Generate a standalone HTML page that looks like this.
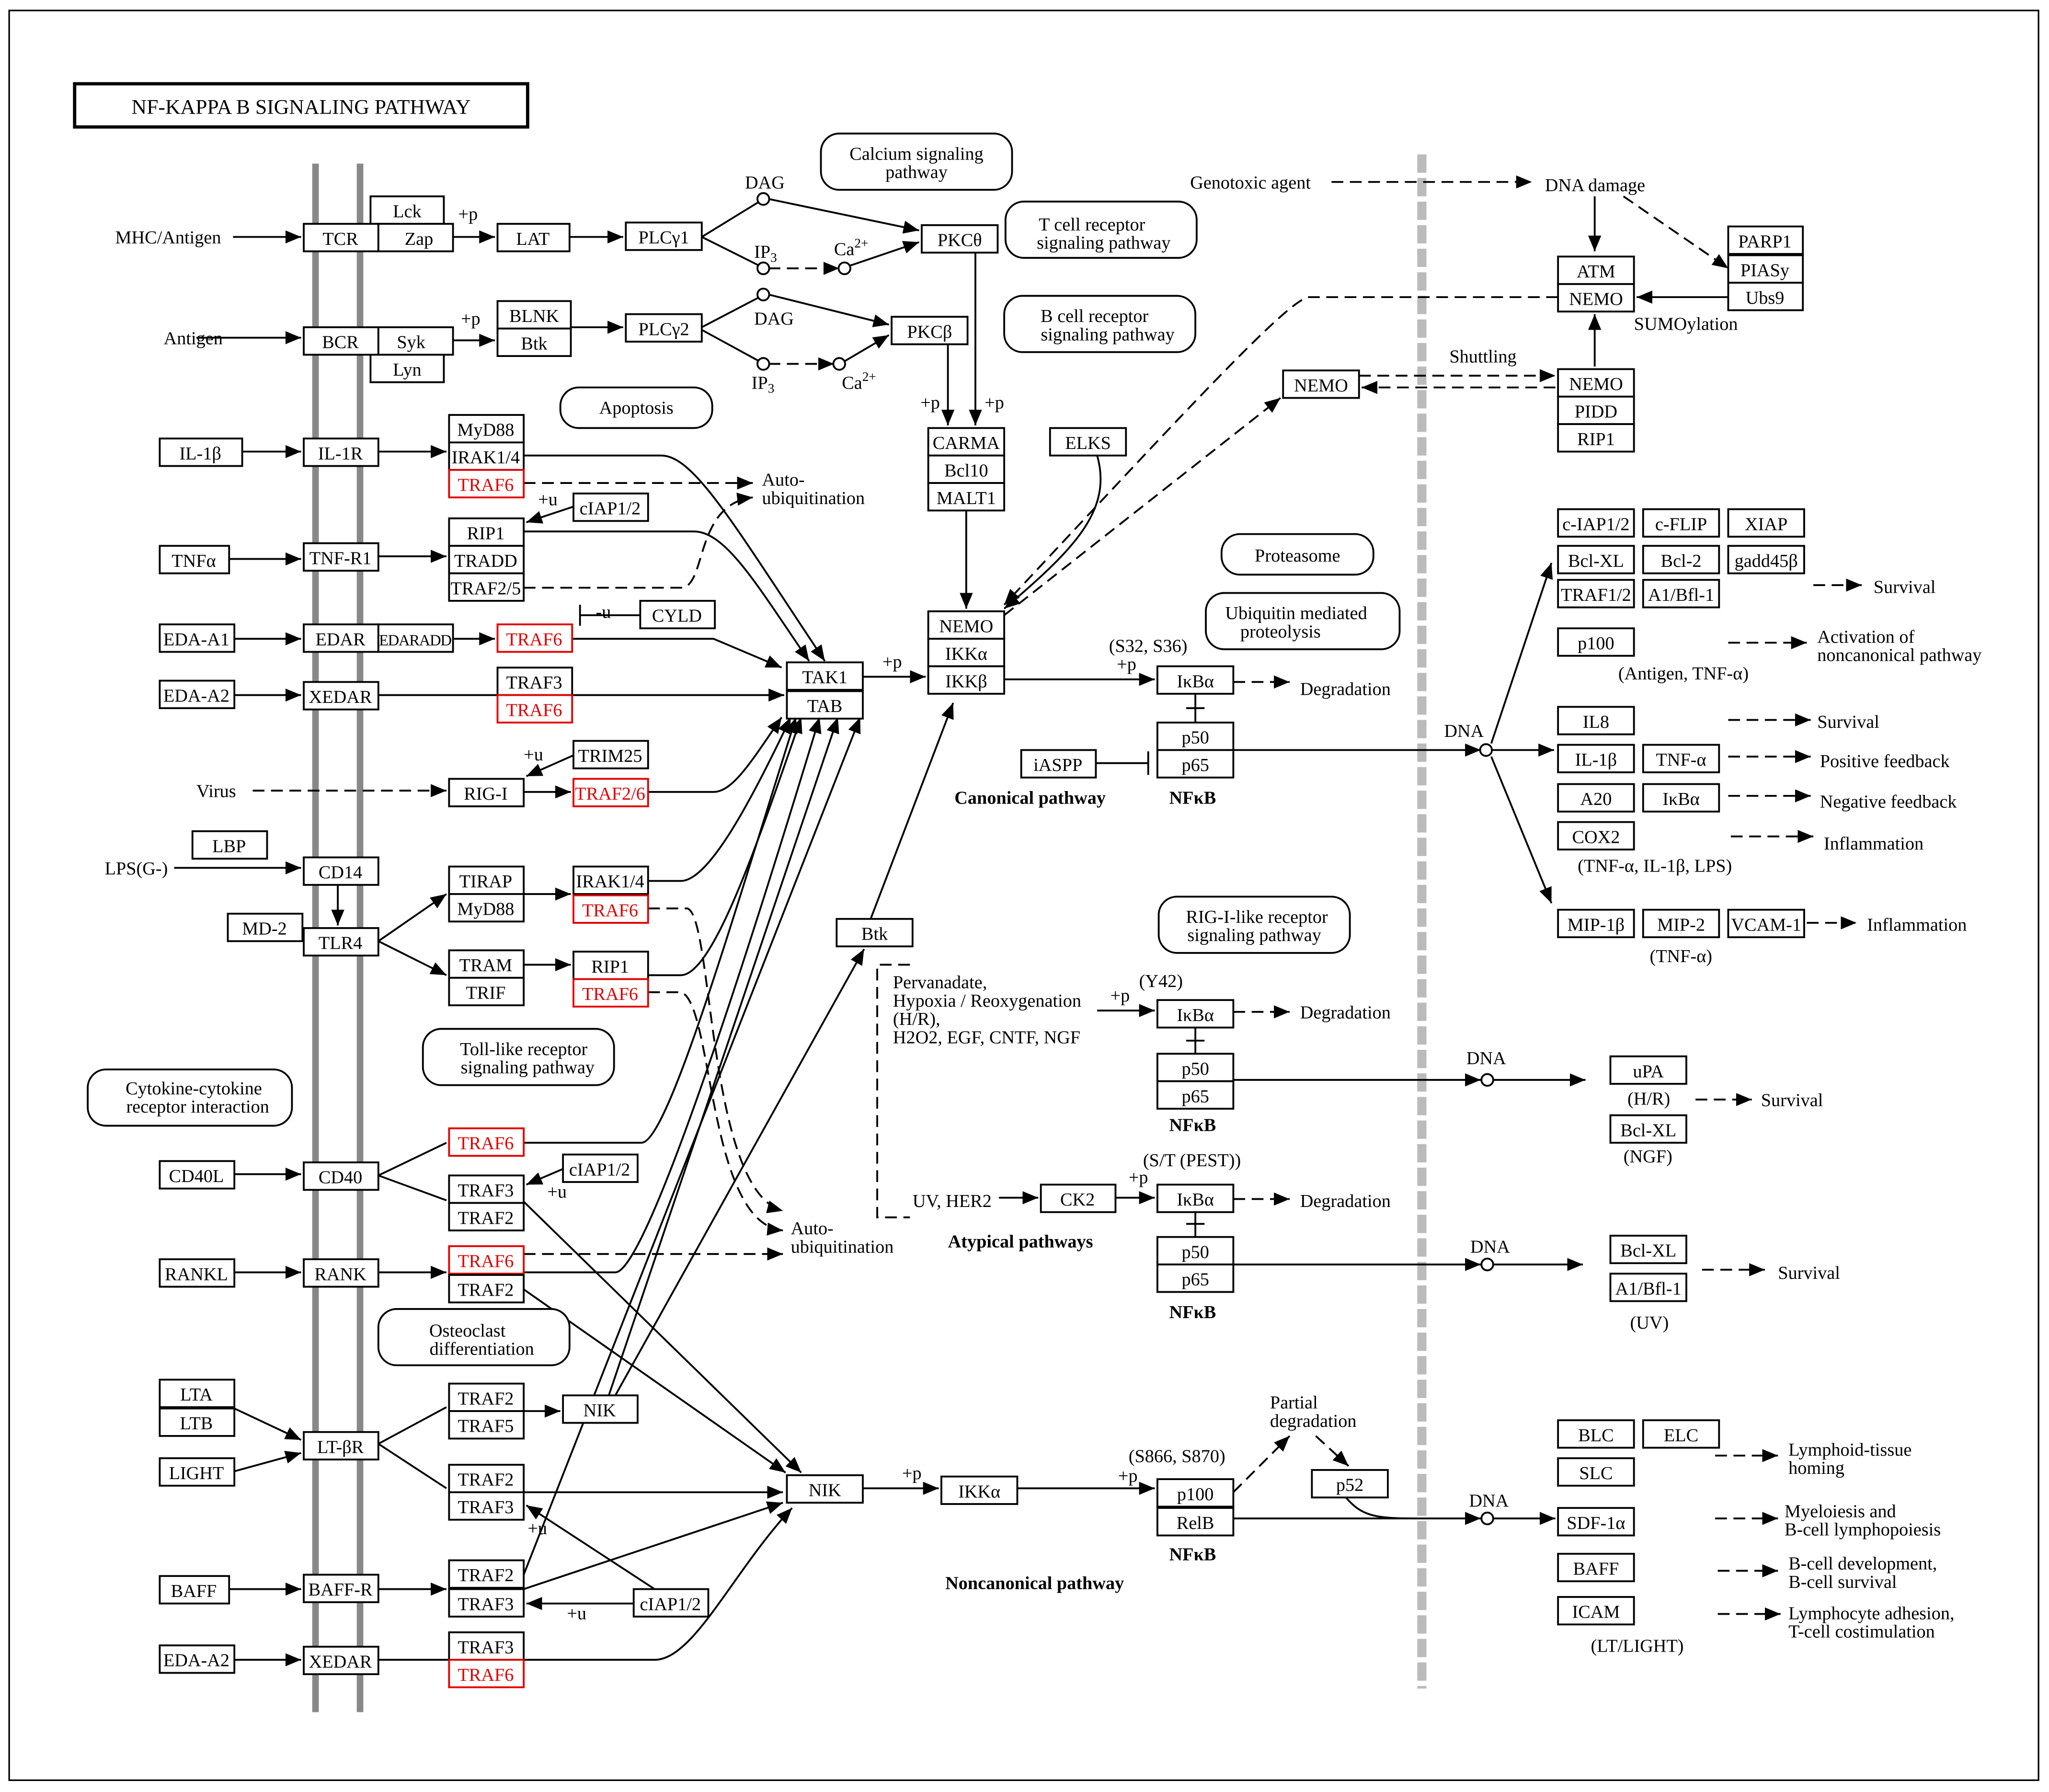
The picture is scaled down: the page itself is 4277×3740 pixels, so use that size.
<!DOCTYPE html>
<html><head><meta charset="utf-8"><style>
html,body{margin:0;padding:0;background:#fff;}
svg{display:block;}
text{font-family:"Liberation Serif",serif;font-size:14px;fill:#000;}
.c{text-anchor:middle;}
.r{fill:#e00000;}
.b{font-weight:bold;}
rect{fill:#fff;stroke:#000;stroke-width:1.4;}
.rr{fill:#fff;stroke:#000;stroke-width:1.4;}
.red{stroke:#e00000;}
.l{fill:none;stroke:#000;stroke-width:1.4;}
.d{fill:none;stroke:#000;stroke-width:1.4;stroke-dasharray:9,5;}
circle{fill:#fff;stroke:#000;stroke-width:1.4;}
</style></head><body>
<svg width="4277" height="3740" viewBox="0 0 1565 1369" preserveAspectRatio="none" xmlns="http://www.w3.org/2000/svg">
<defs><marker id="a" viewBox="0 0 12 10" refX="12" refY="5" markerWidth="12" markerHeight="10" markerUnits="userSpaceOnUse" orient="auto"><path d="M0,0L12,5L0,10z" fill="#000"/></marker></defs>
<rect x="7" y="8" width="1550" height="1352" style="stroke-width:1.2"/>
<rect x="57" y="64" width="346" height="33" style="stroke-width:2.5"/>
<text x="230" y="87" class="c" style="font-size:16px">NF-KAPPA  B  SIGNALING  PATHWAY</text>
<line x1="241" y1="125" x2="241" y2="1308" stroke="#888" stroke-width="5"/>
<line x1="275" y1="125" x2="275" y2="1308" stroke="#888" stroke-width="5"/>
<line x1="1086" y1="118" x2="1086" y2="1290" stroke="#bbb" stroke-width="7" stroke-dasharray="14,4"/>

<!-- connectors -->
<g class="l" marker-end="url(#a)">
<path d="M178,181H230"/><path d="M346,181H378"/><path d="M435,181H476"/>
<path d="M587,152L702,176"/><path d="M649,203L702,185"/><path d="M745,193V325"/>
<path d="M150,258H230"/><path d="M346,260H378"/><path d="M436,250H476"/>
<path d="M587,225L679,248"/><path d="M645,276L679,256"/><path d="M724,263V325"/>
<path d="M185,345H230"/><path d="M289,345H341"/>
<path d="M400,348H505C530,348 560,400 630,505"/>
<path d="M438,387L402,399"/>
<path d="M175,427H230"/><path d="M289,425H341"/>
<path d="M400,406H530C555,406 580,450 618,505"/>
<path d="M179,488H230"/><path d="M346,488H378"/>
<path d="M437,488H545L597,510"/>
<path d="M179,531H230"/><path d="M289,531H599"/>
<path d="M659,517H707"/><path d="M738,390V465"/>
<path d="M838,348C850,390 820,420 767,465"/>
<path d="M767,519H882"/>
<path d="M942,573H1131"/><path d="M1139,573H1187"/><path d="M1139,568L1185,430"/><path d="M1139,578L1185,690"/>
<path d="M438,577L402,593"/><path d="M400,605H436"/>
<path d="M495,605H545C560,605 575,580 597,548"/>
<path d="M133,663H230"/><path d="M258,676V707"/>
<path d="M289,719L341,683"/><path d="M289,719L341,745"/>
<path d="M400,683H436"/><path d="M400,737H436"/>
<path d="M495,673H520C540,673 570,620 604,548"/>
<path d="M495,745H520C545,745 580,640 612,548"/>
<path d="M665,702L728,537"/>
<path d="M838,772H882"/><path d="M942,825H1131"/><path d="M1140,825H1211"/>
<path d="M763,915H793"/><path d="M852,915H882"/>
<path d="M942,966H1131"/><path d="M1140,966H1209"/>
<path d="M179,897H230"/>
<path d="M400,873H490C510,873 560,700 608,548"/>
<path d="M430,893L402,905"/>
<path d="M400,918L612,1125"/>
<path d="M179,972H230"/><path d="M289,972H341"/>
<path d="M400,972H470C495,972 580,700 626,548"/>
<path d="M400,985L600,1125"/>
<path d="M179,1076L230,1100"/><path d="M179,1124L230,1110"/>
<path d="M400,1078H428"/>
<path d="M465,1066L640,548"/>
<path d="M470,1066L660,725"/>
<path d="M400,1203L657,548"/>
<path d="M400,1140H598"/>
<path d="M484,1225H402"/><path d="M500,1214L402,1150"/>
<path d="M175,1214H230"/><path d="M289,1214H341"/>
<path d="M400,1214L598,1148"/>
<path d="M179,1268H230"/><path d="M289,1268H500C530,1268 560,1200 605,1152"/>
<path d="M659,1137H717"/><path d="M777,1137H882"/>
<path d="M942,1160H1131"/><path d="M1140,1160H1188"/>
<path d="M1218,150V192"/><path d="M1320,227H1250"/><path d="M1218,280V240"/>
</g>
<g class="l">
<path d="M536,181L580,154"/><path d="M536,181L580,203"/>
<path d="M536,250L580,227"/><path d="M536,252L580,276"/>
<path d="M837,583H877M877,574V592"/>
<path d="M489,470H443M443,462V478"/>
<path d="M913,530V552M906,541H920"/>
<path d="M913,785V805M906,795H920"/>
<path d="M913,926V945M906,935H920"/>
<path d="M289,898L341,873"/><path d="M289,898L341,917"/>
<path d="M289,1103L341,1075"/><path d="M289,1103L341,1137"/>
<path d="M1028,1144C1040,1158 1050,1160 1080,1160"/>
</g>
<g class="d" marker-end="url(#a)">
<path d="M587,205H641"/><path d="M587,278H637"/>
<path d="M400,369H575"/>
<path d="M400,449H520C540,449 530,385 575,380"/>
<path d="M767,470L978,304"/>
<path d="M1190,227H1000C985,227 900,320 767,462"/>
<path d="M942,521H985"/>
<path d="M1385,447H1422"/><path d="M1320,491H1380"/><path d="M1320,550H1383"/><path d="M1320,578H1383"/><path d="M1320,608H1383"/><path d="M1322,639H1385"/><path d="M1380,705H1418"/>
<path d="M193,604H341"/>
<path d="M495,694H525C545,700 540,910 598,925"/>
<path d="M495,758H520C545,765 540,935 598,940"/>
<path d="M942,773H985"/><path d="M1295,840H1338"/>
<path d="M942,916H985"/><path d="M1300,970H1348"/>
<path d="M400,958H598"/>
<path d="M942,1140L985,1097"/><path d="M1005,1097L1030,1120"/>
<path d="M1310,1112H1358"/><path d="M1310,1160H1358"/><path d="M1312,1200H1358"/><path d="M1312,1233H1360"/>
<path d="M1017,139H1170"/><path d="M1240,150L1320,205"/>
<path d="M1038,287H1188"/><path d="M1188,296H1040"/>
</g>
<path class="d" d="M695,737H670V930H695"/>

<circle cx="583" cy="152" r="4.5"/><circle cx="583" cy="205" r="4.5"/><circle cx="645" cy="205" r="4.5"/>
<circle cx="583" cy="225" r="4.5"/><circle cx="583" cy="278" r="4.5"/><circle cx="641" cy="278" r="4.5"/>
<circle cx="1135" cy="573" r="4.5"/><circle cx="1136" cy="825" r="4.5"/><circle cx="1136" cy="966" r="4.5"/><circle cx="1136" cy="1160" r="4.5"/>

<!-- rounded boxes -->
<g class="rr">
<rect x="627" y="102" width="146" height="43" rx="14"/><rect x="768" y="154" width="146" height="43" rx="14"/>
<rect x="767" y="226" width="146" height="43" rx="14"/><rect x="428" y="296" width="116" height="31" rx="14"/>
<rect x="933" y="408" width="116" height="31" rx="14"/><rect x="921" y="453" width="148" height="43" rx="14"/>
<rect x="323" y="786" width="146" height="43" rx="14"/><rect x="67" y="817" width="156" height="43" rx="14"/>
<rect x="885" y="685" width="146" height="43" rx="14"/><rect x="289" y="1000" width="146" height="43" rx="14"/>
</g>
<text x="700" y="122" class="c">Calcium signaling</text><text x="700" y="136" class="c">pathway</text>
<text x="834" y="176" class="c">T cell receptor</text><text x="843" y="190" class="c">signaling pathway</text>
<text x="836" y="246" class="c">B cell receptor</text><text x="846" y="260" class="c">signaling pathway</text>
<text x="486" y="316" class="c">Apoptosis</text>
<text x="991" y="429" class="c">Proteasome</text>
<text x="990" y="473" class="c">Ubiquitin mediated</text><text x="978" y="487" class="c">proteolysis</text>
<text x="400" y="806" class="c">Toll-like receptor</text><text x="403" y="820" class="c">signaling pathway</text>
<text x="148" y="836" class="c">Cytokine-cytokine</text><text x="151" y="850" class="c">receptor interaction</text>
<text x="960" y="705" class="c">RIG-I-like receptor</text><text x="958" y="719" class="c">signaling pathway</text>
<text x="357" y="1021" class="c">Osteoclast</text><text x="368" y="1035" class="c">differentiation</text>

<!-- boxes -->
<g>
<rect x="283" y="150" width="56" height="21"/><rect x="232" y="171" width="57" height="21"/><rect x="289" y="171" width="57" height="21"/>
<rect x="380" y="171" width="55" height="21"/><rect x="478" y="170" width="58" height="21"/><rect x="704" y="172" width="58" height="21"/>
<rect x="380" y="230" width="56" height="21"/><rect x="380" y="251" width="56" height="21"/>
<rect x="232" y="250" width="57" height="21"/><rect x="289" y="250" width="57" height="21"/><rect x="283" y="271" width="56" height="21"/>
<rect x="478" y="240" width="58" height="21"/><rect x="681" y="242" width="58" height="21"/>
<rect x="122" y="335" width="63" height="21"/><rect x="232" y="335" width="57" height="21"/>
<rect x="343" y="317" width="57" height="21"/><rect x="343" y="338" width="57" height="21"/><rect x="343" y="359" width="57" height="21" class="red"/>
<rect x="438" y="377" width="57" height="21"/>
<rect x="343" y="396" width="57" height="21"/><rect x="343" y="417" width="57" height="21"/><rect x="343" y="438" width="57" height="21"/>
<rect x="122" y="417" width="53" height="21"/><rect x="232" y="415" width="57" height="21"/>
<rect x="489" y="459" width="57" height="21"/>
<rect x="122" y="477" width="57" height="21"/><rect x="232" y="477" width="57" height="21"/><rect x="289" y="477" width="57" height="21"/>
<rect x="380" y="477" width="57" height="21" class="red"/>
<rect x="122" y="520" width="57" height="21"/><rect x="232" y="521" width="57" height="21"/>
<rect x="380" y="510" width="57" height="21"/><rect x="380" y="531" width="57" height="21" class="red"/>
<rect x="601" y="506" width="58" height="21"/><rect x="601" y="528" width="58" height="21"/>
<rect x="709" y="467" width="58" height="21"/><rect x="709" y="488" width="58" height="21"/><rect x="709" y="509" width="58" height="21"/>
<rect x="709" y="327" width="58" height="21"/><rect x="709" y="348" width="58" height="21"/><rect x="709" y="369" width="58" height="21"/>
<rect x="802" y="327" width="58" height="21"/>
<rect x="438" y="566" width="57" height="21"/><rect x="343" y="595" width="57" height="21"/><rect x="438" y="595" width="57" height="21" class="red"/>
<rect x="147" y="635" width="57" height="21"/><rect x="232" y="655" width="57" height="21"/>
<rect x="174" y="698" width="57" height="21"/><rect x="232" y="709" width="57" height="21"/>
<rect x="343" y="662" width="57" height="21"/><rect x="343" y="683" width="57" height="21"/>
<rect x="438" y="662" width="57" height="21"/><rect x="438" y="684" width="57" height="21" class="red"/>
<rect x="343" y="726" width="57" height="21"/><rect x="343" y="747" width="57" height="21"/>
<rect x="438" y="727" width="57" height="21"/><rect x="438" y="748" width="57" height="21" class="red"/>
<rect x="639" y="702" width="58" height="21"/>
<rect x="343" y="862" width="57" height="21" class="red"/><rect x="430" y="882" width="57" height="21"/>
<rect x="122" y="887" width="57" height="21"/><rect x="232" y="888" width="57" height="21"/>
<rect x="343" y="898" width="57" height="21"/><rect x="343" y="919" width="57" height="21"/>
<rect x="122" y="962" width="57" height="21"/><rect x="232" y="962" width="57" height="21"/>
<rect x="343" y="952" width="57" height="21" class="red"/><rect x="343" y="974" width="57" height="21"/>
<rect x="122" y="1054" width="57" height="21"/><rect x="122" y="1076" width="57" height="21"/><rect x="122" y="1114" width="57" height="21"/>
<rect x="232" y="1094" width="57" height="21"/>
<rect x="343" y="1057" width="57" height="21"/><rect x="343" y="1078" width="57" height="21"/><rect x="430" y="1066" width="57" height="21"/>
<rect x="343" y="1119" width="57" height="21"/><rect x="343" y="1140" width="57" height="21"/>
<rect x="122" y="1204" width="53" height="21"/><rect x="232" y="1203" width="57" height="21"/>
<rect x="343" y="1192" width="57" height="21"/><rect x="343" y="1214" width="57" height="21"/><rect x="484" y="1214" width="57" height="21"/>
<rect x="122" y="1257" width="57" height="21"/><rect x="232" y="1258" width="57" height="21"/>
<rect x="343" y="1247" width="57" height="21"/><rect x="343" y="1268" width="57" height="21" class="red"/>
<rect x="601" y="1127" width="58" height="21"/><rect x="719" y="1128" width="58" height="21"/>
<rect x="884" y="1130" width="58" height="21"/><rect x="884" y="1152" width="58" height="21"/><rect x="1002" y="1123" width="58" height="21"/>
<rect x="884" y="509" width="58" height="21"/><rect x="884" y="552" width="58" height="21"/><rect x="884" y="573" width="58" height="21"/>
<rect x="780" y="573" width="57" height="21"/>
<rect x="884" y="764" width="58" height="21"/><rect x="884" y="805" width="58" height="21"/><rect x="884" y="826" width="58" height="21"/>
<rect x="795" y="905" width="57" height="21"/>
<rect x="884" y="905" width="58" height="21"/><rect x="884" y="945" width="58" height="21"/><rect x="884" y="966" width="58" height="21"/>
<rect x="980" y="283" width="58" height="21"/>
<rect x="1190" y="196" width="58" height="21"/><rect x="1190" y="217" width="58" height="21"/>
<rect x="1320" y="173" width="57" height="21"/><rect x="1320" y="195" width="57" height="21"/><rect x="1320" y="216" width="57" height="21"/>
<rect x="1190" y="282" width="58" height="21"/><rect x="1190" y="303" width="58" height="21"/><rect x="1190" y="324" width="58" height="21"/>
<rect x="1190" y="389" width="58" height="21"/><rect x="1255" y="389" width="58" height="21"/><rect x="1320" y="389" width="58" height="21"/>
<rect x="1190" y="417" width="58" height="21"/><rect x="1255" y="417" width="58" height="21"/><rect x="1320" y="417" width="58" height="21"/>
<rect x="1190" y="443" width="58" height="21"/><rect x="1255" y="443" width="58" height="21"/>
<rect x="1190" y="480" width="58" height="21"/><rect x="1190" y="540" width="58" height="21"/>
<rect x="1190" y="569" width="58" height="21"/><rect x="1255" y="569" width="58" height="21"/>
<rect x="1190" y="599" width="58" height="21"/><rect x="1255" y="599" width="58" height="21"/>
<rect x="1190" y="628" width="58" height="21"/>
<rect x="1190" y="695" width="58" height="21"/><rect x="1255" y="695" width="58" height="21"/><rect x="1320" y="695" width="58" height="21"/>
<rect x="1230" y="807" width="58" height="21"/><rect x="1230" y="852" width="58" height="21"/>
<rect x="1230" y="944" width="58" height="21"/><rect x="1230" y="973" width="58" height="21"/>
<rect x="1190" y="1085" width="58" height="21"/><rect x="1255" y="1085" width="58" height="21"/>
<rect x="1190" y="1114" width="58" height="21"/><rect x="1190" y="1152" width="58" height="21"/>
<rect x="1190" y="1187" width="58" height="21"/><rect x="1190" y="1220" width="58" height="21"/>
</g>
<g class="c">
<text x="311" y="166" class="c">Lck</text><text x="260" y="187" class="c">TCR</text><text x="320" y="187" class="c">Zap</text>
<text x="407" y="187" class="c">LAT</text><text x="507" y="186" class="c">PLCγ1</text><text x="733" y="188" class="c">PKCθ</text>
<text x="408" y="246" class="c">BLNK</text><text x="408" y="267" class="c">Btk</text>
<text x="260" y="266" class="c">BCR</text><text x="314" y="266" class="c">Syk</text><text x="311" y="287" class="c">Lyn</text>
<text x="507" y="256" class="c">PLCγ2</text><text x="710" y="258" class="c">PKCβ</text>
<text x="153" y="351" class="c">IL-1β</text><text x="260" y="351" class="c">IL-1R</text>
<text x="371" y="333" class="c">MyD88</text><text x="371" y="354" class="c">IRAK1/4</text><text x="371" y="375" class="c r">TRAF6</text>
<text x="466" y="393" class="c">cIAP1/2</text>
<text x="371" y="412" class="c">RIP1</text><text x="371" y="433" class="c">TRADD</text><text x="371" y="454" class="c">TRAF2/5</text>
<text x="148" y="433" class="c">TNFα</text><text x="260" y="431" class="c">TNF-R1</text><text x="517" y="475" class="c">CYLD</text>
<text x="150" y="493" class="c">EDA-A1</text><text x="260" y="493" class="c">EDAR</text><text x="317" y="493" class="c" style="font-size:12px;letter-spacing:-0.5px">EDARADD</text>
<text x="408" y="493" class="c r">TRAF6</text>
<text x="150" y="536" class="c">EDA-A2</text><text x="260" y="537" class="c">XEDAR</text>
<text x="408" y="526" class="c">TRAF3</text><text x="408" y="547" class="c r">TRAF6</text>
<text x="630" y="522" class="c">TAK1</text><text x="630" y="544" class="c">TAB</text>
<text x="738" y="483" class="c">NEMO</text><text x="738" y="504" class="c">IKKα</text><text x="738" y="525" class="c">IKKβ</text>
<text x="738" y="343" class="c">CARMA</text><text x="738" y="364" class="c">Bcl10</text><text x="738" y="385" class="c">MALT1</text>
<text x="831" y="343" class="c">ELKS</text>
<text x="466" y="582" class="c">TRIM25</text><text x="371" y="611" class="c">RIG-I</text><text x="466" y="611" class="c r">TRAF2/6</text>
<text x="175" y="651" class="c">LBP</text><text x="260" y="671" class="c">CD14</text>
<text x="202" y="714" class="c">MD-2</text><text x="260" y="725" class="c">TLR4</text>
<text x="371" y="678" class="c">TIRAP</text><text x="371" y="699" class="c">MyD88</text>
<text x="466" y="678" class="c">IRAK1/4</text><text x="466" y="700" class="c r">TRAF6</text>
<text x="371" y="742" class="c">TRAM</text><text x="371" y="763" class="c">TRIF</text>
<text x="466" y="743" class="c">RIP1</text><text x="466" y="764" class="c r">TRAF6</text>
<text x="668" y="718" class="c">Btk</text>
<text x="371" y="878" class="c r">TRAF6</text><text x="458" y="898" class="c">cIAP1/2</text>
<text x="150" y="903" class="c">CD40L</text><text x="260" y="904" class="c">CD40</text>
<text x="371" y="914" class="c">TRAF3</text><text x="371" y="935" class="c">TRAF2</text>
<text x="150" y="978" class="c">RANKL</text><text x="260" y="978" class="c">RANK</text>
<text x="371" y="968" class="c r">TRAF6</text><text x="371" y="990" class="c">TRAF2</text>
<text x="150" y="1070" class="c">LTA</text><text x="150" y="1092" class="c">LTB</text><text x="150" y="1130" class="c">LIGHT</text>
<text x="260" y="1110" class="c">LT-βR</text>
<text x="371" y="1073" class="c">TRAF2</text><text x="371" y="1094" class="c">TRAF5</text><text x="458" y="1082" class="c">NIK</text>
<text x="371" y="1135" class="c">TRAF2</text><text x="371" y="1156" class="c">TRAF3</text>
<text x="148" y="1220" class="c">BAFF</text><text x="260" y="1219" class="c">BAFF-R</text>
<text x="371" y="1208" class="c">TRAF2</text><text x="371" y="1230" class="c">TRAF3</text><text x="512" y="1230" class="c">cIAP1/2</text>
<text x="150" y="1273" class="c">EDA-A2</text><text x="260" y="1274" class="c">XEDAR</text>
<text x="371" y="1263" class="c">TRAF3</text><text x="371" y="1284" class="c r">TRAF6</text>
<text x="630" y="1143" class="c">NIK</text><text x="748" y="1144" class="c">IKKα</text>
<text x="913" y="1146" class="c">p100</text><text x="913" y="1168" class="c">RelB</text><text x="1031" y="1139" class="c">p52</text>
<text x="913" y="525" class="c">IκBα</text><text x="913" y="568" class="c">p50</text><text x="913" y="589" class="c">p65</text>
<text x="808" y="589" class="c">iASPP</text>
<text x="913" y="780" class="c">IκBα</text><text x="913" y="821" class="c">p50</text><text x="913" y="842" class="c">p65</text>
<text x="823" y="921" class="c">CK2</text>
<text x="913" y="921" class="c">IκBα</text><text x="913" y="961" class="c">p50</text><text x="913" y="982" class="c">p65</text>
<text x="1009" y="299" class="c">NEMO</text>
<text x="1219" y="212" class="c">ATM</text><text x="1219" y="233" class="c">NEMO</text>
<text x="1348" y="189" class="c">PARP1</text><text x="1348" y="211" class="c">PIASy</text><text x="1348" y="232" class="c">Ubs9</text>
<text x="1219" y="298" class="c">NEMO</text><text x="1219" y="319" class="c">PIDD</text><text x="1219" y="340" class="c">RIP1</text>
<text x="1219" y="405" class="c">c-IAP1/2</text><text x="1284" y="405" class="c">c-FLIP</text><text x="1349" y="405" class="c">XIAP</text>
<text x="1219" y="433" class="c">Bcl-XL</text><text x="1284" y="433" class="c">Bcl-2</text><text x="1349" y="433" class="c">gadd45β</text>
<text x="1219" y="459" class="c">TRAF1/2</text><text x="1284" y="459" class="c">A1/Bfl-1</text>
<text x="1219" y="496" class="c">p100</text><text x="1219" y="556" class="c">IL8</text>
<text x="1219" y="585" class="c">IL-1β</text><text x="1284" y="585" class="c">TNF-α</text>
<text x="1219" y="615" class="c">A20</text><text x="1284" y="615" class="c">IκBα</text>
<text x="1219" y="644" class="c">COX2</text>
<text x="1219" y="711" class="c">MIP-1β</text><text x="1284" y="711" class="c">MIP-2</text><text x="1349" y="711" class="c">VCAM-1</text>
<text x="1259" y="823" class="c">uPA</text><text x="1259" y="868" class="c">Bcl-XL</text>
<text x="1259" y="960" class="c">Bcl-XL</text><text x="1259" y="989" class="c">A1/Bfl-1</text>
<text x="1219" y="1101" class="c">BLC</text><text x="1284" y="1101" class="c">ELC</text>
<text x="1219" y="1130" class="c">SLC</text><text x="1219" y="1168" class="c">SDF-1α</text>
<text x="1219" y="1203" class="c">BAFF</text><text x="1219" y="1236" class="c">ICAM</text>
</g>

<!-- free labels -->
<text x="88" y="186">MHC/Antigen</text><text x="125" y="263">Antigen</text>
<text x="150" y="609">Virus</text><text x="80" y="668">LPS(G-)</text>
<text x="350" y="168">+p</text><text x="352" y="248">+p</text>
<text x="569" y="144">DAG</text><text x="576" y="248">DAG</text>
<text x="576" y="197">IP<tspan font-size="10" dy="3">3</tspan></text><text x="574" y="297">IP<tspan font-size="10" dy="3">3</tspan></text>
<text x="637" y="195">Ca<tspan font-size="10" dy="-6">2+</tspan></text><text x="643" y="297">Ca<tspan font-size="10" dy="-6">2+</tspan></text>
<text x="752" y="312">+p</text><text x="703" y="312">+p</text>
<text x="582" y="371">Auto-</text><text x="582" y="385">ubiquitination</text>
<text x="411" y="386">+u</text><text x="455" y="472">-u</text>
<text x="674" y="510">+p</text><text x="847" y="498">(S32, S36)</text><text x="853" y="512">+p</text>
<text x="993" y="531">Degradation</text>
<text x="729" y="614" class="b">Canonical pathway</text><text x="893" y="614" class="b">NFκB</text>
<text x="400" y="581">+u</text>
<text x="682" y="755">Pervanadate,</text><text x="682" y="769">Hypoxia / Reoxygenation</text><text x="682" y="783">(H/R),</text><text x="682" y="797">H2O2, EGF, CNTF, NGF</text>
<text x="848" y="765">+p</text><text x="870" y="754">(Y42)</text><text x="993" y="778">Degradation</text>
<text x="893" y="864" class="b">NFκB</text><text x="1120" y="813">DNA</text>
<text x="1243" y="844">(H/R)</text><text x="1345" y="845">Survival</text><text x="1240" y="888">(NGF)</text>
<text x="697" y="922">UV, HER2</text><text x="862" y="904">+p</text><text x="873" y="891">(S/T (PEST))</text>
<text x="993" y="922">Degradation</text><text x="724" y="953" class="b">Atypical pathways</text>
<text x="893" y="1007" class="b">NFκB</text><text x="1123" y="957">DNA</text>
<text x="1358" y="977">Survival</text><text x="1245" y="1015">(UV)</text>
<text x="604" y="943">Auto-</text><text x="604" y="957">ubiquitination</text>
<text x="418" y="915">+u</text><text x="403" y="1172">+u</text><text x="433" y="1237">+u</text>
<text x="689" y="1130">+p</text><text x="854" y="1132">+p</text><text x="862" y="1117">(S866, S870)</text>
<text x="970" y="1076">Partial</text><text x="970" y="1090">degradation</text>
<text x="893" y="1192" class="b">NFκB</text><text x="722" y="1214" class="b">Noncanonical pathway</text>
<text x="1122" y="1151">DNA</text><text x="1103" y="563">DNA</text>
<text x="909" y="144">Genotoxic agent</text><text x="1180" y="146">DNA damage</text>
<text x="1248" y="252">SUMOylation</text><text x="1107" y="277">Shuttling</text>
<text x="1431" y="453">Survival</text>
<text x="1388" y="491">Activation of</text><text x="1388" y="505">noncanonical pathway</text>
<text x="1236" y="519">(Antigen, TNF-α)</text>
<text x="1388" y="556">Survival</text><text x="1390" y="586">Positive feedback</text>
<text x="1390" y="617">Negative feedback</text><text x="1393" y="649">Inflammation</text>
<text x="1205" y="666">(TNF-α, IL-1β, LPS)</text>
<text x="1426" y="711">Inflammation</text><text x="1260" y="735">(TNF-α)</text>
<text x="1366" y="1112">Lymphoid-tissue</text><text x="1366" y="1126">homing</text>
<text x="1363" y="1159">Myeloiesis and</text><text x="1363" y="1173">B-cell lymphopoiesis</text>
<text x="1366" y="1199">B-cell development,</text><text x="1366" y="1213">B-cell survival</text>
<text x="1366" y="1237">Lymphocyte adhesion,</text><text x="1366" y="1251">T-cell costimulation</text>
<text x="1215" y="1262">(LT/LIGHT)</text>
</svg>
</body></html>
